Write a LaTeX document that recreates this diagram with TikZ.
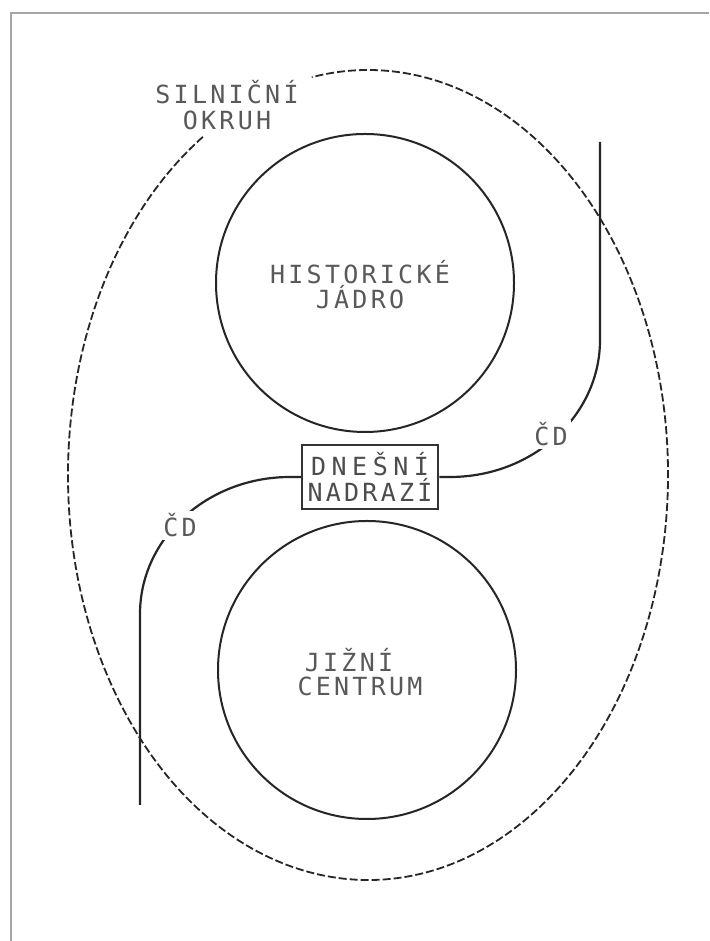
\documentclass[tikz,border=0pt]{standalone}
\usepackage{fontspec}
\newfontfamily\labfont[LetterSpace=13]{DejaVu Sans Mono}
\begin{document}
\begin{tikzpicture}[x=1pt,y=1pt,
  lab/.style={font=\labfont\fontsize{25}{26}\selectfont, text=black!65, inner sep=0pt, anchor=base},
  ring/.style={draw=black!85, line width=2pt, circle, minimum size=298pt, inner sep=0pt},
  track/.style={draw=black!85, line width=2.2pt},
  road/.style={draw=black!85, line width=1.8pt, dash pattern=on 8pt off 3pt},
  frame/.style={draw=black!35, line width=2pt},
  stationbox/.style={draw=black!80, line width=2.5pt, minimum width=136pt, minimum height=64pt, inner sep=0pt, align=center, font=\labfont\fontsize{25}{26}\selectfont, text=black!70}]
\useasboundingbox (0,0) rectangle (709,941);
\fill[white] (0,0) rectangle (709,941);
% frame
\coordinate (fa) at (11,0);
\coordinate (fb) at (11,928);
\coordinate (fc) at (709,928);
\draw[frame] (fa) -- (fb) -- (fc);
% road ring (dashed ellipse with gap at the label)
\coordinate (ec) at (368,466);
\draw[road, shift={(ec)}] (123.4:300 and 405) arc[start angle=123.4, end angle=460.8, x radius=300, y radius=405];
% districts
\node[ring] (hist) at (365,658) {};
\node[ring] (jizni) at (367,271) {};
% station
\node[stationbox] (station) at (370,464) {{\addfontfeature{LetterSpace=22}DNEŠNÍ}\\NADRAZÍ};
% railway
\coordinate (r1) at (450,464);
\coordinate (r2) at (600,799);
\draw[track] (station.east) -- (r1) arc[start angle=-90, end angle=0, x radius=150, y radius=137] -- (r2);
\coordinate (l1) at (290,464);
\coordinate (l2) at (140,136);
\draw[track] (station.west) -- (l1) arc[start angle=90, end angle=180, x radius=150, y radius=137] -- (l2);
% labels
\node[lab] (ok1) at (227,837) {SILNIČNÍ};
\node[lab] (ok2) at (227,811) {OKRUH};
\node[lab] (hj1) at (360,657) {HISTORICKÉ};
\node[lab] (hj2) at (360,632) {JÁDRO};
\node[lab] (jc1) at (349,269) {JIŽNÍ};
\node[lab] (jc2) at (360,245) {CENTRUM};
\node[lab, fill=white, inner sep=3pt] (cd1) at (551,495) {ČD};
\node[lab, fill=white, inner sep=3pt] (cd2) at (180,404) {ČD};
\end{tikzpicture}
\end{document}
